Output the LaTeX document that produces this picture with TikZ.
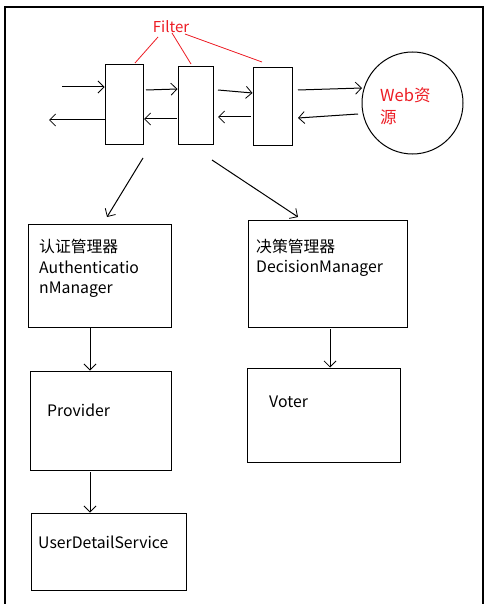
\documentclass[tikz,border=0pt]{standalone}
\usepackage{fontspec}
\setmainfont{Noto Sans CJK SC}
\usetikzlibrary{arrows.meta,shapes.geometric}
\definecolor{filtred}{RGB}{237,28,36}
\begin{document}
\begin{tikzpicture}[x=1pt,y=-1pt,
  box/.style={draw,line width=1pt,inner sep=0pt},
  lbl/.style={anchor=west,inner sep=0pt,font=\fontsize{15.8}{20.5}\selectfont},
  arr/.style={line width=1pt,-{Straight Barb[length=6pt,width=12pt,line width=0.8pt]}},
  redline/.style={draw=filtred,line width=0.8pt}]
\useasboundingbox (0,0) rectangle (485,604);
\fill[white] (0,0) rectangle (485,604);
% frame
\draw[line width=2pt] (5,610) -- (5,7) -- (483,7) -- (483,610);
% filter boxes
\node[box,minimum width=38pt,minimum height=80pt] (f1) at (124,105) {};
\node[box,minimum width=35pt,minimum height=78pt] (f2) at (195.5,106) {};
\node[box,minimum width=39pt,minimum height=78pt] (f3) at (272.5,107) {};
% web resource
\node[draw,line width=1pt,ellipse,minimum width=101pt,minimum height=102pt,inner sep=0pt] (web) at (412.5,103) {};
\node[anchor=west,inner sep=0pt,text=filtred,font=\fontsize{16.5}{22}\selectfont,align=left] (webt) at (380,106) {Web资\\源};
% Filter label
\node[inner sep=0pt,text=filtred,font=\fontsize{15}{18}\selectfont] (filt) at (171,27) {Filter};
\coordinate (r1) at (135,63);
\coordinate (r2) at (191,64);
\coordinate (r3) at (262,62);
\draw[redline] (158,37) -- (r1);
\draw[redline] (172,33) -- (r2);
\draw[redline] (185,34) -- (r3);
% horizontal arrows
\coordinate (in) at (62,87);
\coordinate (out) at (49,120);
\draw[arr] (in) -- (f1.west |- in);
\draw[arr] (f1.west |- out) -- (out);
\draw[arr] (146,90) -- (f2.west |- 0,89);
\draw[arr] (218,90) -- (f3.west |- 0,93);
\draw[arr] (298,90) -- (362,88);
\draw[arr] (358,114) -- (298,118);
\draw[arr] (251,117) -- (218,117);
\draw[arr] (177,119) -- (144,119);
% managers
\node[box,minimum width=143pt,minimum height=103pt] (am) at (99.5,275.5) {};
\node[box,minimum width=159pt,minimum height=107pt] (dm) at (327.5,273.5) {};
\node[lbl,align=left] at (39,268.5) {认证管理器\\Authenticatio\\nManager};
\node[lbl,align=left] at (256,258) {决策管理器\\DecisionManager};
\draw[arr] (143,158) -- (107,217);
\draw[arr] (212,160) -- (298,217);
% provider, voter, uds
\node[box,minimum width=141pt,minimum height=99pt] (pv) at (100.5,420.5) {};
\node[box,minimum width=153pt,minimum height=94pt] (vt) at (323.5,415) {};
\node[box,minimum width=155pt,minimum height=77pt] (uds) at (108.5,551.5) {};
\node[lbl] at (47,410) {Provider};
\node[lbl] at (269,402) {Voter};
\node[lbl] at (38,542) {UserDetailService};
\draw[arr] (90,327) -- (90,0 |- pv.north);
\draw[arr] (330,329) -- (330,0 |- vt.north);
\draw[arr] (90,472) -- (90,0 |- uds.north);
\end{tikzpicture}
\end{document}
